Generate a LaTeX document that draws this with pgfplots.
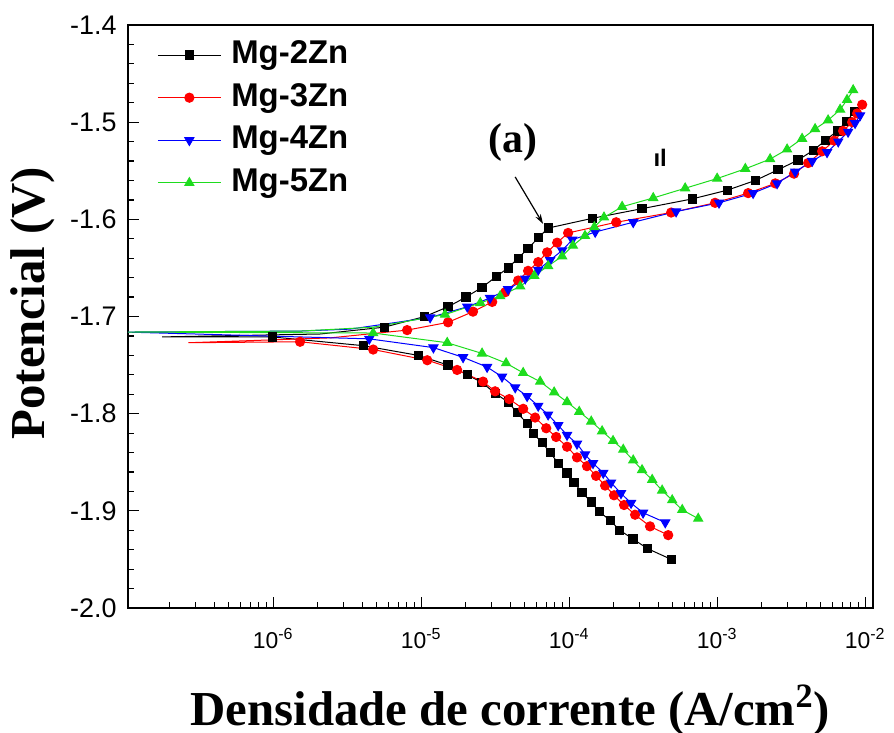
\documentclass[border=0pt]{standalone}
\usepackage{fontspec}
\setmainfont{Liberation Serif}
\setsansfont{Liberation Sans}
\usepackage{pgfplots}
\pgfplotsset{compat=1.18}
\usetikzlibrary{arrows.meta}
\definecolor{mgreen}{RGB}{30,220,30}
\begin{document}
\begin{tikzpicture}
\path[use as bounding box] (-64bp,-62.5bp) rectangle (383bp,304bp);
\begin{axis}[
  at={(0,0)}, anchor=south west,
  scale only axis, width=372.5bp, height=291.5bp,
  xmode=log, xmin=1.045e-7, xmax=1.13e-2,
  ymin=-2.0, ymax=-1.4,
  axis line style={line width=1bp},
  tick align=inside, xtick pos=left, ytick pos=left,
  major tick length=5.5bp, minor tick length=3bp,
  every tick/.style={black, line width=0.6bp},
  xtick={1e-6,1e-5,1e-4,1e-3,1e-2},
  xticklabels={10\textsuperscript{-6},10\textsuperscript{-5},10\textsuperscript{-4},10\textsuperscript{-3},10\textsuperscript{-2}},
  minor xtick={2e-7,3e-7,4e-7,5e-7,6e-7,7e-7,8e-7,9e-7,
               2e-6,3e-6,4e-6,5e-6,6e-6,7e-6,8e-6,9e-6,
               2e-5,3e-5,4e-5,5e-5,6e-5,7e-5,8e-5,9e-5,
               2e-4,3e-4,4e-4,5e-4,6e-4,7e-4,8e-4,9e-4,
               2e-3,3e-3,4e-3,5e-3,6e-3,7e-3,8e-3,9e-3},
  ytick={-2.0,-1.9,-1.8,-1.7,-1.6,-1.5,-1.4},
  minor y tick num=4,
  /pgf/number format/fixed, /pgf/number format/fixed zerofill, /pgf/number format/precision=1,
  /pgf/number format/assume math mode=true,
  xticklabel style={font=\sffamily\fontsize{11.5}{12}\selectfont, anchor=base, yshift=-20bp},
  yticklabel style={font=\sffamily\fontsize{13.5}{14}\selectfont, anchor=east, inner sep=0pt, xshift=-5.5bp},
  xlabel={Densidade de corrente (A/cm\textsuperscript{2})},
  xlabel style={font=\bfseries\fontsize{24.5}{26}\selectfont, at={(axis description cs:0.513,-0.2007)}, anchor=base},
  ylabel={Potencial (V)},
  ylabel style={font=\bfseries\fontsize{24.5}{26}\selectfont, at={(axis description cs:-0.1114,0.523)}, anchor=base},
  legend style={draw=none, fill=none, at={(axis description cs:0.0389,0.8388)}, anchor=west,
     font=\sffamily\bfseries\fontsize{16.5}{17}\selectfont, row sep=5.8bp, column sep=5bp, inner sep=0pt,
     nodes={inner sep=0pt, text height=12bp, text depth=3.5bp}},
  legend cell align=left,
  legend image code/.code={\draw[mark indices={2}] plot coordinates {(0bp,0bp) (15.75bp,0bp) (31.5bp,0bp)};},
]
\addplot[black, line width=0.5bp, mark=square*, mark size=2.05bp, mark options={solid, fill=black},
  mark indices={1,2,3,4,5,6,7,8,9,10,11,12,13,14,15,16,17,18,19,20,21,22,23,24,27,28,29,30,31,32,33,34,35,36,37,38,39,40,41,42,43,44,45,46,47,48,49}] coordinates {
(4.9e-4,-1.950) (3.4e-4,-1.939) (2.7e-4,-1.929) (2.2e-4,-1.920) (1.9e-4,-1.910)
(1.6e-4,-1.901) (1.41e-4,-1.891) (1.22e-4,-1.881) (1.08e-4,-1.871) (9.68e-5,-1.861)
(8.43e-5,-1.851) (7.44e-5,-1.840) (6.57e-5,-1.830) (5.71e-5,-1.820) (5.20e-5,-1.810)
(4.45e-5,-1.799) (3.87e-5,-1.788) (3.16e-5,-1.779) (2.58e-5,-1.768) (2.05e-5,-1.760)
(1.52e-5,-1.750) (9.55e-6,-1.740) (4.06e-6,-1.730) (9.84e-7,-1.721) (1.78e-7,-1.721)
(2.08e-6,-1.718) (5.62e-6,-1.711) (1.06e-5,-1.700) (1.52e-5,-1.690) (2.01e-5,-1.680)
(2.58e-5,-1.670) (3.21e-5,-1.659) (3.87e-5,-1.650) (4.52e-5,-1.640) (5.28e-5,-1.630)
(6.18e-5,-1.619) (7.21e-5,-1.609) (1.43e-4,-1.599) (3.11e-4,-1.589) (6.78e-4,-1.579)
(1.17e-3,-1.570) (1.81e-3,-1.560) (2.58e-3,-1.549) (3.52e-3,-1.539) (4.46e-3,-1.529)
(5.37e-3,-1.519) (6.47e-3,-1.509) (7.55e-3,-1.499) (8.43e-3,-1.489)
};
\addlegendentry{Mg-2Zn}
\addplot[red, line width=0.5bp, mark=*, mark size=2.3bp, mark options={solid, fill=red},
  mark indices={1,2,3,4,5,6,7,8,9,10,11,12,13,14,15,16,17,18,19,20,21,24,25,26,27,28,29,30,31,32,33,34,35,36,37,38,39,40,41,42,43,44,45,46,47}] coordinates {
(4.67e-4,-1.925) (3.52e-4,-1.916) (2.79e-4,-1.904) (2.35e-4,-1.894) (2.01e-4,-1.884)
(1.75e-4,-1.874) (1.52e-4,-1.864) (1.32e-4,-1.854) (1.13e-4,-1.845) (9.68e-5,-1.834)
(8.17e-5,-1.824) (7.0e-5,-1.815) (5.89e-5,-1.804) (4.89e-5,-1.795) (3.94e-5,-1.785)
(3.16e-5,-1.777) (2.62e-5,-1.767) (1.75e-5,-1.755) (1.10e-5,-1.745) (4.74e-6,-1.734)
(1.52e-6,-1.726) (2.67e-7,-1.727) (2.43e-6,-1.722) (8.04e-6,-1.714) (1.52e-5,-1.706)
(2.24e-5,-1.695) (3.02e-5,-1.685) (3.70e-5,-1.675) (4.52e-5,-1.663) (5.28e-5,-1.653)
(6.18e-5,-1.644) (7.10e-5,-1.634) (8.30e-5,-1.624) (9.84e-5,-1.614) (2.08e-4,-1.603)
(4.89e-4,-1.593) (9.68e-4,-1.583) (1.62e-3,-1.573) (2.47e-3,-1.563) (3.31e-3,-1.553)
(4.12e-3,-1.542) (5.12e-3,-1.530) (6.18e-3,-1.519) (7.10e-3,-1.509) (8.17e-3,-1.500)
(8.83e-3,-1.491) (9.55e-3,-1.482)
};
\addlegendentry{Mg-3Zn}
\addplot[blue, line width=0.5bp, mark=triangle*, mark size=2.6bp, mark options={solid, fill=blue, rotate=180},
  mark indices={1,2,3,4,5,6,7,8,9,10,11,12,13,14,15,16,17,18,19,20,23,24,25,26,27,28,29,30,31,32,33,34,35,36,37,38,39,40,41,42,43,44,45}] coordinates {
(4.46e-4,-1.912) (3.16e-4,-1.902) (2.62e-4,-1.892) (2.24e-4,-1.882) (1.92e-4,-1.871)
(1.70e-4,-1.861) (1.45e-4,-1.851) (1.28e-4,-1.842) (1.13e-4,-1.831) (9.68e-5,-1.822)
(8.43e-5,-1.812) (7.21e-5,-1.801) (6.18e-5,-1.792) (5.20e-5,-1.782) (4.32e-5,-1.773)
(3.52e-5,-1.762) (2.79e-5,-1.752) (1.92e-5,-1.742) (1.21e-5,-1.732) (4.46e-6,-1.723)
(1.0e-7,-1.716) (1.52e-6,-1.715) (3.31e-6,-1.713) (1.15e-5,-1.701) (2.05e-5,-1.690)
(2.92e-5,-1.681) (3.87e-5,-1.672) (5.05e-5,-1.661) (6.18e-5,-1.652) (7.44e-5,-1.642)
(8.97e-5,-1.632) (1.05e-4,-1.621) (1.50e-4,-1.613) (2.71e-4,-1.603) (5.28e-4,-1.592)
(1.03e-3,-1.583) (1.75e-3,-1.573) (2.54e-3,-1.563) (3.37e-3,-1.551) (4.39e-3,-1.540)
(5.53e-3,-1.531) (6.58e-3,-1.520) (7.67e-3,-1.510) (8.55e-3,-1.501) (9.25e-3,-1.493)
};
\addlegendentry{Mg-4Zn}
\addplot[mgreen, line width=0.5bp, mark=triangle*, mark size=2.6bp, mark options={solid, fill=mgreen},
  mark indices={1,2,3,4,5,6,7,8,9,10,11,12,13,14,15,16,17,18,19,20,23,24,25,26,27,28,29,30,31,32,33,34,35,36,37,38,39,40,41,42,43,44,45,46,47}] coordinates {
(7.45e-4,-1.908) (5.81e-4,-1.899) (4.97e-4,-1.889) (4.25e-4,-1.879) (3.64e-4,-1.868)
(3.11e-4,-1.858) (2.71e-4,-1.848) (2.32e-4,-1.837) (1.98e-4,-1.828) (1.67e-4,-1.818)
(1.41e-4,-1.808) (1.17e-4,-1.798) (9.68e-5,-1.788) (7.92e-5,-1.778) (6.37e-5,-1.767)
(4.89e-5,-1.758) (3.75e-5,-1.748) (2.58e-5,-1.738) (1.50e-5,-1.727) (4.74e-6,-1.717)
(1.0e-7,-1.716) (1.52e-6,-1.715) (4.74e-6,-1.711) (1.45e-5,-1.698) (2.51e-5,-1.686)
(3.42e-5,-1.679) (4.67e-5,-1.669) (5.81e-5,-1.658) (7.21e-5,-1.648) (8.97e-5,-1.638)
(1.06e-4,-1.627) (1.28e-4,-1.617) (1.48e-4,-1.608) (1.72e-4,-1.598) (2.28e-4,-1.587)
(3.70e-4,-1.578) (6.08e-4,-1.568) (1.0e-3,-1.558) (1.55e-3,-1.548) (2.28e-3,-1.538)
(2.97e-3,-1.528) (3.75e-3,-1.517) (4.59e-3,-1.507) (5.62e-3,-1.498) (6.78e-3,-1.487)
(7.55e-3,-1.477) (8.30e-3,-1.467)
};
\addlegendentry{Mg-5Zn}
\node[font=\bfseries\fontsize{21}{22}\selectfont] at (axis cs:4.19e-5,-1.5204) {(a)};
\draw[-{Stealth[length=5bp,width=3bp]}, line width=0.6bp] (axis cs:4.32e-5,-1.5564) -- (axis cs:6.67e-5,-1.6048);
\node[font=\sffamily\bfseries\fontsize{12}{12}\selectfont] at (axis cs:4.12e-4,-1.5369) {ıl};
\end{axis}
\end{tikzpicture}
\end{document}
